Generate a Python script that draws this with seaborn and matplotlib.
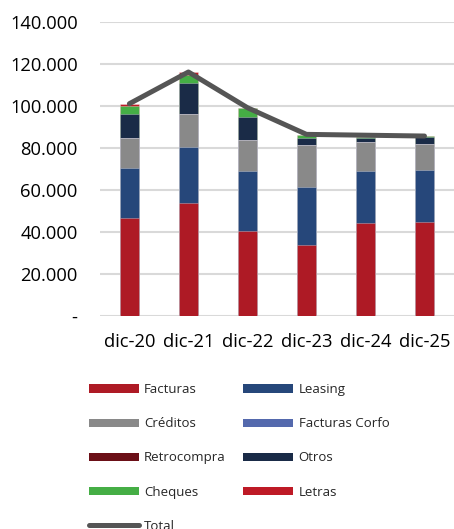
import matplotlib
matplotlib.use("Agg")
from matplotlib import pyplot as plt
from matplotlib.patches import Patch
from matplotlib.lines import Line2D
from matplotlib.ticker import FuncFormatter
import numpy as np
import pandas as pd
import seaborn as sns

# data
months = ['dic-20', 'dic-21', 'dic-22', 'dic-23', 'dic-24', 'dic-25']
facturas = [46800, 53700, 40500, 33700, 44400, 44800]
leasing = [23700, 26800, 28500, 27700, 24800, 24900]
creditos = [14300, 15800, 14800, 20000, 13500, 12200]
facturas_corfo = [0, 0, 0, 0, 0, 0]
retrocompra = [0, 0, 0, 0, 0, 0]
otros = [11500, 14500, 10800, 3500, 2200, 3500]
cheques = [3900, 4100, 4300, 1100, 300, 400]
letras = [900, 1300, 300, 200, 100, 100]
total = [101100, 116200, 99200, 86500, 86100, 85700]

series = ['Facturas', 'Leasing', 'Créditos', 'Facturas Corfo', 'Retrocompra', 'Otros', 'Cheques', 'Letras']
values = [facturas, leasing, creditos, facturas_corfo, retrocompra, otros, cheques, letras]
colors = ['#ae1a25', '#26477a', '#898989', '#5469ad', '#6b0f17', '#1a2b47', '#45ae45', '#be1a26']

df = pd.DataFrame(dict(zip(series, values)), index=months)
cum = df.cumsum(axis=1)

sns.set_style("white")
plt.rcParams['font.family'] = ['Open Sans', 'DejaVu Sans']

fig = plt.figure(figsize=(4.54, 5.29), dpi=100)
ax = fig.add_axes([0.22, 0.4026, 0.78, 0.5558])

# stacked bars: draw cumulative sums from the top layer down
for name, col in reversed(list(zip(series, colors))):
    sns.barplot(x=months, y=cum[name].values, color=col, width=0.33,
                saturation=1, linewidth=0.6, edgecolor=(1, 1, 1, 0.35), ax=ax)

sns.lineplot(x=months, y=total, color='#555555', linewidth=3.6, sort=False,
             solid_capstyle='round', ax=ax)

ax.set_ylim(0, 140000)
ax.set_xlim(-0.5, 5.5)
ax.set_yticks(np.arange(0, 140001, 20000))
ax.yaxis.set_major_formatter(FuncFormatter(lambda v, p: '-' if v == 0 else f'{int(v):,}'.replace(',', '.')))
ax.grid(axis='y', color='#d9d9d9', linewidth=1.5)
ax.set_axisbelow(True)
for s in ax.spines.values():
    s.set_visible(False)
ax.tick_params(axis='both', length=0, labelsize=13.2, colors='black')
ax.tick_params(axis='y', pad=16)
ax.tick_params(axis='x', pad=12)
ax.set_xlabel('')
ax.set_ylabel('')

# legend, row-wise order in two columns
h = {n: Patch(facecolor=c, edgecolor='none') for n, c in zip(series, colors)}
tot = Line2D([], [], color='#555555', linewidth=3.6, solid_capstyle='round')
handles = [h['Facturas'], h['Créditos'], h['Retrocompra'], h['Cheques'], tot,
           h['Leasing'], h['Facturas Corfo'], h['Otros'], h['Letras']]
labels = ['Facturas', 'Créditos', 'Retrocompra', 'Cheques', 'Total',
          'Leasing', 'Facturas Corfo', 'Otros', 'Letras']
fig.legend(handles, labels, ncol=2, loc='upper left', bbox_to_anchor=(0.181, 0.288),
           frameon=False, fontsize=9.5, handlelength=3.8, handleheight=0.6,
           handletextpad=0.4, labelspacing=1.6, columnspacing=1.3, borderpad=0)

fig.savefig('out.png', dpi=100)
